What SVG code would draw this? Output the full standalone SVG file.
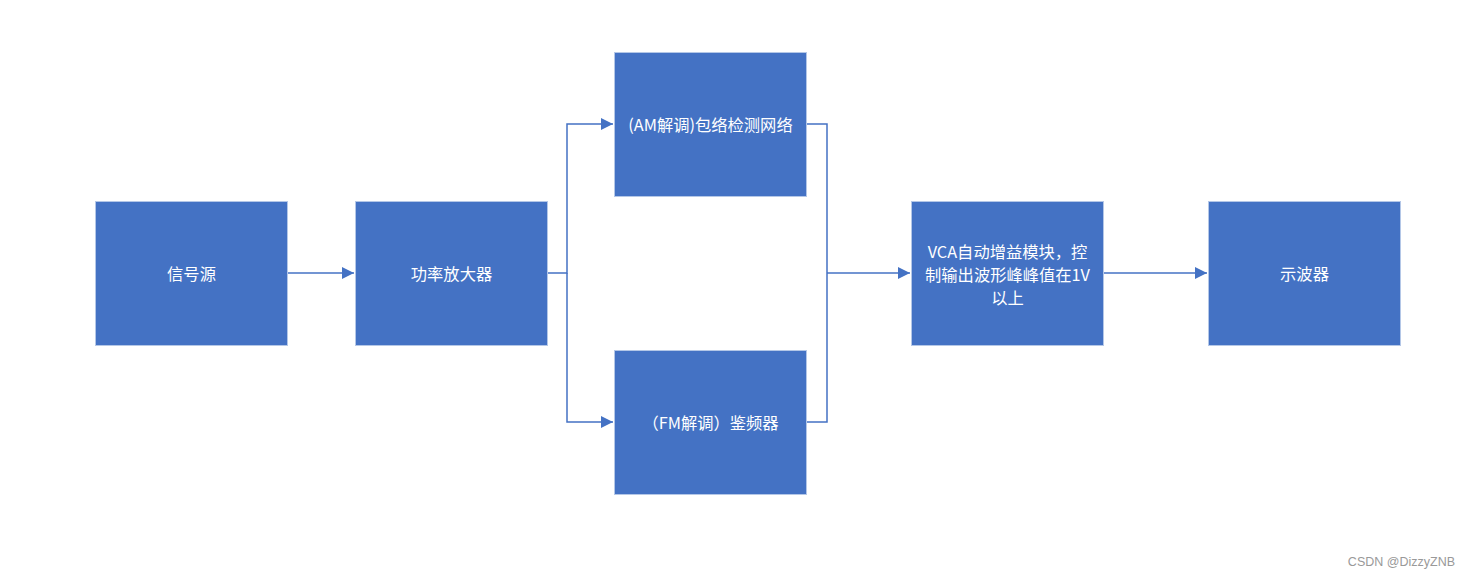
<svg xmlns="http://www.w3.org/2000/svg" width="1470" height="577" viewBox="0 0 1470 577">
<defs>
<style>
.box{fill:#4472C4;stroke:#B4C7E7;stroke-width:1}
.lbl{fill:#FFFFFF;font-family:"Noto Sans CJK SC","Liberation Sans",sans-serif;font-size:16.3px;text-anchor:middle;dominant-baseline:central}
.wire{fill:none;stroke:#4472C4;stroke-width:1.5}
.wm{fill:#999999;font-family:"Liberation Sans",sans-serif;font-size:12.5px;text-anchor:end}
</style>
<marker id="arr" viewBox="0 0 12 12" refX="12" refY="6" markerWidth="12" markerHeight="12" markerUnits="userSpaceOnUse" orient="auto">
<path d="M0,0 L12,6 L0,12 Z" fill="#4472C4"/>
</marker>
</defs>
<rect width="1470" height="577" fill="#FFFFFF"/>
<g id="connectors">
<path class="wire" d="M287,273 H354" marker-end="url(#arr)"/>
<path class="wire" d="M547,273 H567 V124 H613" marker-end="url(#arr)"/>
<path class="wire" d="M567,273 V422 H613" marker-end="url(#arr)"/>
<path class="wire" d="M806,124 H827 V273"/>
<path class="wire" d="M806,422 H827 V273"/>
<path class="wire" d="M827,273 H910" marker-end="url(#arr)"/>
<path class="wire" d="M1103,273 H1207" marker-end="url(#arr)"/>
</g>
<g id="n-source">
<rect class="box" x="95.5" y="201.5" width="192" height="144"/>
<text class="lbl" x="191.5" y="273">信号源</text>
</g>
<g id="n-amp">
<rect class="box" x="355.5" y="201.5" width="192" height="144"/>
<text class="lbl" x="451.5" y="273">功率放大器</text>
</g>
<g id="n-am">
<rect class="box" x="614.5" y="52.5" width="192" height="144"/>
<text class="lbl" x="710.5" y="124">(AM解调)包络检测网络</text>
</g>
<g id="n-fm">
<rect class="box" x="614.5" y="350.5" width="192" height="144"/>
<text class="lbl" x="710.5" y="422">（FM解调）鉴频器</text>
</g>
<g id="n-vca">
<rect class="box" x="911.5" y="201.5" width="192" height="144"/>
<text class="lbl" x="1007.5" y="251">VCA自动增益模块，控</text>
<text class="lbl" x="1007.5" y="274">制输出波形峰峰值在1V</text>
<text class="lbl" x="1007.5" y="297">以上</text>
</g>
<g id="n-scope">
<rect class="box" x="1208.5" y="201.5" width="192" height="144"/>
<text class="lbl" x="1304.5" y="273">示波器</text>
</g>
<text class="wm" x="1455" y="566">CSDN @DizzyZNB</text>
</svg>
